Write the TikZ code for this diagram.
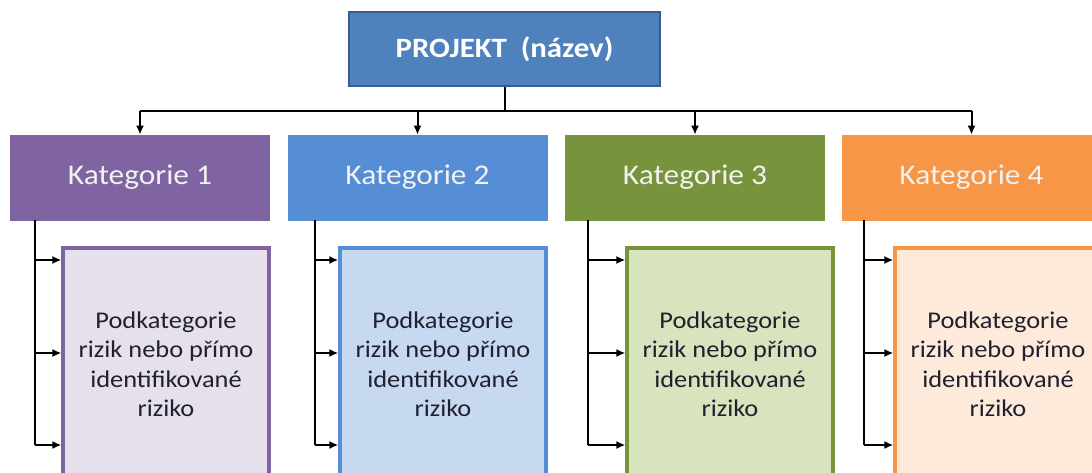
\documentclass[tikz,border=0pt]{standalone}
\usepackage{fontspec}
\setmainfont{Carlito}[FakeStretch=1.1]
\usetikzlibrary{arrows.meta}
\definecolor{projfill}{HTML}{4F81BD}
\definecolor{projedge}{HTML}{385D8A}
\definecolor{cpurple}{HTML}{8064A2}
\definecolor{cblue}{HTML}{558ED5}
\definecolor{cgreen}{HTML}{77933C}
\definecolor{corange}{HTML}{F79646}
\definecolor{lpurple}{HTML}{E5E0EC}
\definecolor{lblue}{HTML}{C6D9F1}
\definecolor{lgreen}{HTML}{D7E4BD}
\definecolor{lorange}{HTML}{FDEADA}
\definecolor{subtext}{HTML}{202030}
\tikzset{
  projbox/.style={draw=projedge, line width=2.4pt, fill=projfill, text=white,
    minimum width=311pt, minimum height=74pt, inner sep=0pt,
    font=\fontsize{28}{32}\selectfont\bfseries},
  catbox/.style={draw=#1, line width=0.6pt, fill=#1, text=white!95!black,
    minimum width=259pt, minimum height=85pt, inner sep=0pt,
    font=\fontsize{28.5}{32}\selectfont},
  subbox/.style 2 args={draw=#1, line width=3.2pt, fill=#2, text=subtext,
    minimum width=206pt, minimum height=232pt, inner sep=0pt, align=center,
    font=\fontsize{24}{29.5}\selectfont},
  link/.style={line width=2pt, black},
  arr/.style={link, -{Latex[length=9pt,width=8pt]}},
}
\begin{document}
\begin{tikzpicture}[x=1pt, y=-1pt]
  \useasboundingbox (0,0) rectangle (1092,472);
  \fill[white] (0,0) rectangle (1092,472);
  \clip (0,0) rectangle (1092,472);

  % project header
  \node[projbox] (proj) at (504.5,49) {\raisebox{-1.5pt}{PROJEKT\ \ (název)}};

  % categories
  \node[catbox=cpurple] (k1) at (140,177.5) {\raisebox{-3pt}{Kategorie 1}};
  \node[catbox=cblue]   (k2) at (417.5,177.5) {\raisebox{-3pt}{Kategorie 2}};
  \node[catbox=cgreen]  (k3) at (695,177.5) {\raisebox{-3pt}{Kategorie 3}};
  \node[catbox=corange] (k4) at (971.5,177.5) {\raisebox{-3pt}{Kategorie 4}};

  % subcategory boxes
  \node[subbox={cpurple}{lpurple}] (s1) at (166,364) {Podkategorie\\rizik nebo přímo\\identifikované\\riziko};
  \node[subbox={cblue}{lblue}]     (s2) at (443,364) {Podkategorie\\rizik nebo přímo\\identifikované\\riziko};
  \node[subbox={cgreen}{lgreen}]   (s3) at (730,364) {Podkategorie\\rizik nebo přímo\\identifikované\\riziko};
  \node[subbox={corange}{lorange}] (s4) at (998,364) {Podkategorie\\rizik nebo přímo\\identifikované\\riziko};

  % bus from the project to the categories
  \coordinate (bus) at (504.5,111);
  \draw[link] (proj.south) -- (proj.south |- bus);
  \draw[link] (k1.north |- bus) -- (k4.north |- bus);
  \foreach \k in {k1,k2,k3,k4}
    \draw[arr] (\k.north |- bus) -- (\k.north);

  % branches from each category into its subcategory box
  \foreach \k/\s/\dx in {k1/s1/25,k2/s2/27,k3/s3/23,k4/s4/22} {
    \coordinate (\k top) at ([xshift=\dx pt]\k.south west);
    \coordinate (\k end) at (\k top |- 0,445);
    \draw[link] (\k top) -- (\k end);
    \foreach \yy in {260,353,445}
      \draw[arr] (\k top |- 0,\yy) -- (\s.west |- 0,\yy);
  }
\end{tikzpicture}
\end{document}
